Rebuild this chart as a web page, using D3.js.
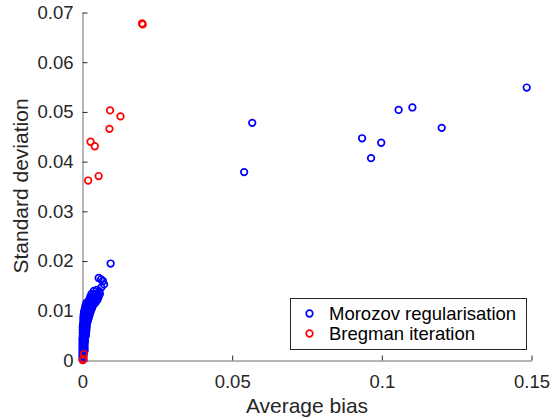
<!DOCTYPE html>
<html><head><meta charset="utf-8">
<script src="https://cdn.jsdelivr.net/npm/d3@7"></script>
<style>body{margin:0;background:#fff}svg{display:block}text{font-family:"Liberation Sans",Arial,sans-serif}</style>
</head><body>
<svg id="c" width="560" height="419"></svg>
<script>
const xTicks=[0,0.05,0.1,0.15];
const xTickLabels=["0","0.05","0.1","0.15"];
const yTicks=[0,0.01,0.02,0.03,0.04,0.05,0.06,0.07];
const yTickLabels=["0","0.01","0.02","0.03","0.04","0.05","0.06","0.07"];
const seriesNames=["Morozov regularisation","Bregman iteration"];
const morozovBias=[0.1484,0.1102,0.1056,0.12,0.0934,0.0998,0.0964,0.0567,0.054,
0.0094,0.0054,0.0062,0.0068,0.0072,0.0063,0.0048,0.0056,0.0038,
0,0.0003, 0,0.0003, 0,0.0003,
0,0.0004,0.0007, 0,0.0004,0.0007, 0,0.0004,0.0007, 0,0.0004,0.0008, 0,0.0004,0.0008,
0.0001,0.0005,0.0009,0.0011, 0.0001,0.0005,0.0009,0.0012, 0.0001,0.0005,0.0009,0.0013, 0.0001,0.0005,0.0009,0.0014, 0.0002,0.0006,0.001,0.0015,
0.0003,0.0008,0.0013,0.0018, 0.0003,0.0008,0.0013,0.0018,0.0021, 0.0004,0.0009,0.0014,0.0019,0.0024, 0.0005,0.001,0.0015,0.002,0.0027,
0.0008,0.0014,0.002,0.0026,0.0031, 0.001,0.0016,0.0022,0.0028,0.0035, 0.0013,0.0019,0.0025,0.0031,0.0038,0.0043,
0.0022,0.003,0.0037,0.0044,0.005, 0.0026,0.0033,0.004,0.0047,0.0054, 0.003,0.0037,0.0044,0.005,0.0058];
const morozovStd=[0.0549,0.0509,0.0504,0.0468,0.0447,0.0438,0.0407,0.0478,0.0379,
0.0195,0.0166,0.0163,0.016,0.0153,0.0147,0.0142,0.0139,0.014,
0.0002,0.0002, 0.0008,0.0008, 0.0014,0.0014,
0.002,0.002,0.002, 0.0026,0.0026,0.0026, 0.0032,0.0032,0.0032, 0.0038,0.0038,0.0038, 0.0044,0.0044,0.0044,
0.005,0.005,0.005,0.005, 0.0056,0.0056,0.0056,0.0056, 0.0062,0.0062,0.0062,0.0062, 0.0068,0.0068,0.0068,0.0068, 0.0074,0.0074,0.0074,0.0074,
0.008,0.008,0.008,0.008, 0.0086,0.0086,0.0086,0.0086,0.0086, 0.0092,0.0092,0.0092,0.0092,0.0092, 0.0098,0.0098,0.0098,0.0098,0.0098,
0.0104,0.0104,0.0104,0.0104,0.0104, 0.011,0.011,0.011,0.011,0.011, 0.0116,0.0116,0.0116,0.0116,0.0116,0.0116,
0.0122,0.0122,0.0122,0.0122,0.0122, 0.0128,0.0128,0.0128,0.0128,0.0128, 0.0134,0.0134,0.0134,0.0134,0.0134];
const bregmanBias=[0.0199,0.0201,0.0092,0.0127,0.009,0.0027,0.0041,0.0054,0.0019,0.0005,0.0003,0.0001];
const bregmanStd=[0.0678,0.0676,0.0503,0.0491,0.0466,0.044,0.0431,0.0371,0.0362,0.0013,0.0003,0.0001];

const svg=d3.select("#c");
const x=d3.scaleLinear().domain([0,0.15]).range([82.5,531.5]);
const y=d3.scaleLinear().domain([0,0.07]).range([360.5,12.5]);
const ax="#262626";
const fam="Liberation Sans, Arial, sans-serif";

const xa=svg.append("g").attr("transform","translate(0,360.5)")
 .call(d3.axisBottom(x).tickValues(xTicks).tickFormat((d,i)=>xTickLabels[i]).tickSizeInner(-5).tickSizeOuter(0).tickPadding(14));
const ya=svg.append("g").attr("transform","translate(82.5,0)")
 .call(d3.axisLeft(y).tickValues(yTicks).tickFormat((d,i)=>yTickLabels[i]).tickSizeInner(-5).tickSizeOuter(0).tickPadding(9));
[xa,ya].forEach(a=>{a.select(".domain").attr("stroke","#6e6e6e");a.selectAll(".tick line").attr("stroke",ax);
 a.selectAll("text").attr("fill",ax).attr("font-size",18.5).style("font-family",fam);});
xa.selectAll("text").attr("dy","0.71em");

svg.append("text").attr("x",307).attr("y",413).attr("text-anchor","middle").attr("font-size",21).attr("fill",ax).text("Average bias");
svg.append("text").attr("transform","translate(28,186) rotate(-90)").attr("text-anchor","middle").attr("font-size",21).attr("fill",ax).text("Standard deviation");

const pts=svg.append("g");
pts.selectAll("circle.m").data(d3.range(morozovBias.length)).join("circle").attr("class","m")
 .attr("cx",i=>x(morozovBias[i])).attr("cy",i=>y(morozovStd[i])).attr("r",3.3).attr("fill","none").attr("stroke","#0000ff").attr("stroke-width",1.7);
pts.selectAll("circle.b").data(d3.range(bregmanBias.length)).join("circle").attr("class","b")
 .attr("cx",i=>x(bregmanBias[i])).attr("cy",i=>y(bregmanStd[i])).attr("r",3.3).attr("fill","none").attr("stroke","#ff0000").attr("stroke-width",1.7);

const lg=svg.append("g");
lg.append("rect").attr("x",290.5).attr("y",298.5).attr("width",236).attr("height",51).attr("fill","#fff").attr("stroke",ax).attr("stroke-width",1);
const colors=["#0000ff","#ff0000"];
seriesNames.forEach((n,i)=>{
 lg.append("circle").attr("cx",309.5).attr("cy",313.5+i*20).attr("r",3.3).attr("fill","none").attr("stroke",colors[i]).attr("stroke-width",1.7);
 lg.append("text").attr("x",329).attr("y",319.5+i*20).attr("font-size",18.5).attr("fill","#000").text(n);
});
</script>
</body></html>
